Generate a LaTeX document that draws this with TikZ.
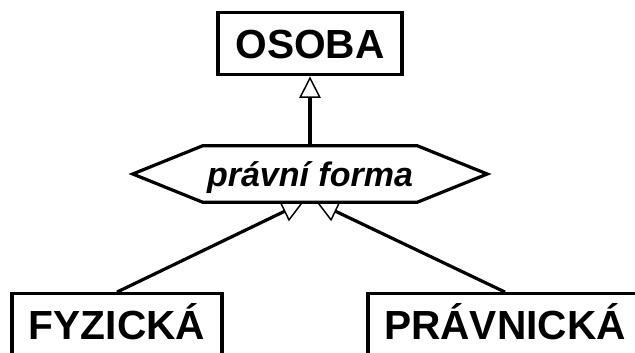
\documentclass[tikz,border=0pt]{standalone}
\usepackage{fontspec}
\setmainfont{Liberation Sans}
\usetikzlibrary{arrows.meta, calc, backgrounds}

\begin{document}
\begin{tikzpicture}[
  x=0.75pt, y=-0.75pt,
  line join=miter,
  entity/.style={draw, line width=2.4pt, inner sep=0pt,
                 minimum height=47pt,
                 font=\fontsize{30.5}{36}\selectfont\bfseries,
                 text height=21.8pt, text depth=0pt},
  discr/.style={inner sep=0pt, minimum width=160.5pt, minimum height=42pt,
                font=\fontsize{25.5}{30}\selectfont\bfseries\itshape,
                text height=18.4pt, text depth=0pt},
  gen/.style={-{Triangle[open, length=16pt, width=16pt, line width=1.1pt]},
              line width=2.4pt},
]

\useasboundingbox (0,0) rectangle (635,353);

%% Supertype and discriminator
\node[entity, minimum width=138pt] (osoba) at (310,43.5) {OSOBA};
\node[discr] (forma) at (310,174) {právní forma};

%% Subtypes, cut off by the lower edge
\node[entity, minimum width=157.5pt] (fyz) at (117,325) {FYZICKÁ};
\node[entity, minimum width=205.5pt] (prav) at (505,325) {PRÁVNICKÁ};

\begin{scope}[on background layer]
  %% Generalisation arrows
  \draw[gen] (forma.north) -- (osoba.south);
  \draw[gen] (fyz.north)  -- ([xshift=-5pt]forma.south);
  \draw[gen] (prav.north) -- ([xshift=5pt]forma.south);
  %% Discriminator hexagon, laid over the arrow tips
  \filldraw[fill=white, line width=2.4pt]
    (forma.north west) -- (forma.north east) -- ($(forma.east)+(70,0)$)
    -- (forma.south east) -- (forma.south west) -- ($(forma.west)+(-70,0)$)
    -- cycle;
\end{scope}

\end{tikzpicture}
\end{document}
